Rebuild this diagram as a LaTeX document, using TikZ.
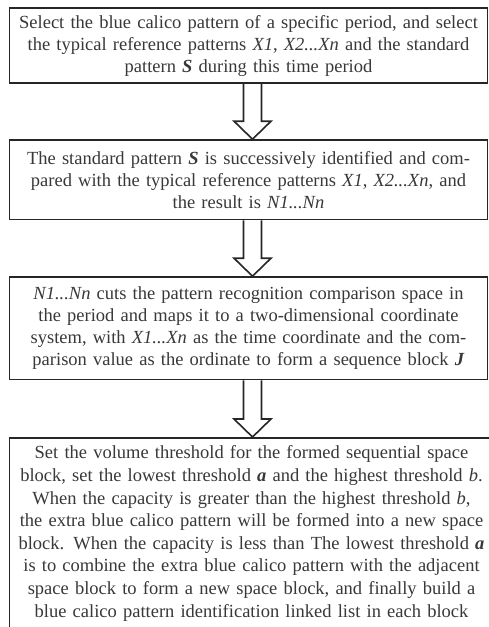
\documentclass[tikz,border=0pt]{standalone}
\usepackage{fontspec}
\setmainfont{Liberation Serif}
\usetikzlibrary{calc}
\newcommand\flowarrow[3]{%
  \coordinate (#3s) at ($(#1.south)+(4,0)$);
  \coordinate (#3t) at (#3s |- #2.north);
  \draw[blockarr]
    ($(#3s)+(-9,0)$) -- ($(#3t)+(-9,-18)$) -- ($(#3t)+(-18.5,-18)$)
    -- (#3t)
    -- ($(#3t)+(18.5,-18)$) -- ($(#3t)+(9,-18)$) -- ($(#3s)+(9,0)$);}
\begin{document}
\begin{tikzpicture}[x=1pt,y=-1pt,
  box/.style={draw=black!85, line width=1.6pt, text width=476pt, align=center,
    inner sep=0pt, minimum width=478pt, font=\fontsize{18.5}{22}\selectfont, text=black!78},
  blockarr/.style={draw=black!85, line width=1.6pt, line join=miter}]
\useasboundingbox (0,0) rectangle (489,627);
\node[box, minimum height=75pt] (b1) at (248.5,45.5)
  {Select the blue calico pattern of a specific period, and select\\
   the typical reference patterns \textit{X1}, \textit{X2...Xn} and the standard\\
   pattern \textbf{\textit{S}} during this time period};
\node[box, minimum height=79.5pt] (b2) at (248.5,179.75)
  {The standard pattern \textbf{\textit{S}} is successively identified and com-\\
   pared with the typical reference patterns \textit{X1}, \textit{X2...Xn}, and\\
   the result is \textit{N1...Nn}};
\node[box, minimum height=102.5pt] (b3) at (248.5,328.25)
  {\textit{N1...Nn} cuts the pattern recognition comparison space in\\
   the period and maps it to a two-dimensional coordinate\\
   system, with \textit{X1...Xn} as the time coordinate and the com-\\
   parison value as the ordinate to form a sequence block \textbf{\textit{J}}};
\node[box, anchor=north, inner ysep=8pt, minimum width=484pt, text depth=200pt,
      font=\fontsize{18.5}{22.6}\selectfont] (b4) at (251.5,437)
  {Set the volume threshold for the formed sequential space\\
   block, set the lowest threshold \textbf{\textit{a}} and the highest threshold \textit{b}.\\
   When the capacity is greater than the highest threshold \textit{b},\\
   the extra blue calico pattern will be formed into a new space\\
   block. When the capacity is less than The lowest threshold \textbf{\textit{a}}\\
   is to combine the extra blue calico pattern with the adjacent\\
   space block to form a new space block, and finally build a\\
   blue calico pattern identification linked list in each block};
\flowarrow{b1}{b2}{a1}
\flowarrow{b2}{b3}{a2}
\flowarrow{b3}{b4}{a3}
\end{tikzpicture}
\end{document}
